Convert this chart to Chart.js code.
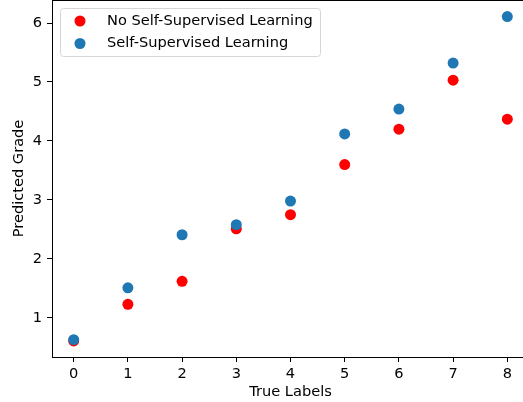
<!DOCTYPE html>
<html>
  <head>
    <meta charset="UTF-8">
    <title>Predicted Grade vs True Labels</title>
    <style>
      html, body { margin: 0; padding: 0; background: #fff; overflow: hidden; }
      #wrap { width: 523px; height: 402px; overflow: hidden; }
    </style>
  </head>
  <body>
    <div id="wrap">
      <canvas id="gradeChart" width="530" height="402"></canvas>
    </div>
    <script src="https://cdn.jsdelivr.net/npm/chart.js"></script>
    <script>
      // values
      const trueLabels = [0, 1, 2, 3, 4, 5, 6, 7, 8];
      const noSslGrades = [0.61, 1.23, 1.62, 2.51, 2.75, 3.60, 4.20, 5.03, 4.37];
      const sslGrades   = [0.63, 1.51, 2.41, 2.58, 2.98, 4.12, 4.54, 5.32, 6.11];
      const xTicks = [0, 1, 2, 3, 4, 5, 6, 7, 8];
      const yTicks = [1, 2, 3, 4, 5, 6];

      const FONT = 'DejaVu Sans';
      const FS = 14.6;

      const toPoints = (ys) => trueLabels.map((x, i) => ({ x: x, y: ys[i] }));

      // top spine (right spine falls outside the picture)
      const frame = {
        id: 'frame',
        beforeDatasetsDraw(chart) {
          const a = chart.chartArea;
          const c = chart.ctx;
          c.save();
          c.strokeStyle = '#000';
          c.lineWidth = 1;
          c.beginPath();
          c.moveTo(a.left, a.top + 0.5);
          c.lineTo(a.right, a.top + 0.5);
          c.lineTo(a.right, a.bottom);
          c.stroke();
          c.restore();
        }
      };

      // matplotlib style legend drawn inside the axes, upper left
      const insideLegend = {
        id: 'insideLegend',
        afterDatasetsDraw(chart) {
          const c = chart.ctx;
          const area = chart.chartArea;
          const x0 = area.left + 8, y0 = area.top + 8, w = 260, h = 48;
          c.save();
          c.beginPath();
          c.roundRect(x0 + 0.5, y0 + 0.5, w, h, 3);
          c.fillStyle = 'rgba(255,255,255,0.8)';
          c.fill();
          c.strokeStyle = '#d6d6d6';
          c.lineWidth = 1;
          c.stroke();
          const entries = [chart.data.datasets[0], chart.data.datasets[1]];
          c.font = FS + 'px "' + FONT + '"';
          c.textBaseline = 'middle';
          entries.forEach((ds, i) => {
            const cy = y0 + 13 + i * 22.5;
            c.beginPath();
            c.arc(x0 + 20, cy, 5.5, 0, Math.PI * 2);
            c.fillStyle = ds.backgroundColor;
            c.fill();
            c.fillStyle = '#000';
            c.fillText(ds.label, x0 + 47, cy);
          });
          c.restore();
        }
      };

      const ctx = document.getElementById('gradeChart').getContext('2d');
      const gradeChart = new Chart(ctx, {
        type: 'scatter',
        data: {
          datasets: [{
            label: 'No Self-Supervised Learning',
            data: toPoints(noSslGrades),
            backgroundColor: '#ff0000',
            borderWidth: 0,
            pointRadius: 5.5,
            order: 1
          }, {
            label: 'Self-Supervised Learning',
            data: toPoints(sslGrades),
            backgroundColor: '#1f77b4',
            borderWidth: 0,
            pointRadius: 5.5,
            order: 0
          }]
        },
        options: {
          responsive: false,
          animation: false,
          layout: { autoPadding: false, padding: { top: 0, right: 1, left: 0, bottom: 0 } },
          plugins: {
            legend: { display: false },
            tooltip: { enabled: false }
          },
          scales: {
            x: {
              type: 'linear',
              min: -0.4,
              max: 8.4,
              afterBuildTicks: (s) => { s.ticks = xTicks.map(v => ({ value: v })); },
              afterFit: (s) => { s.height = 45; s.paddingLeft = 0; s.paddingRight = 0; },
              ticks: { color: '#000', font: { family: FONT, size: FS }, padding: 3, maxRotation: 0 },
              grid: { drawOnChartArea: false, drawTicks: true, tickLength: 5, color: '#000' },
              border: { display: true, color: '#000', width: 1 },
              title: {
                display: true,
                text: 'True Labels',
                color: '#000',
                font: { family: FONT, size: FS },
                padding: { top: 0, bottom: 1 }
              }
            },
            y: {
              type: 'linear',
              min: 0.337,
              max: 6.39,
              afterBuildTicks: (s) => { s.ticks = yTicks.map(v => ({ value: v })); },
              afterFit: (s) => { s.width = 52; s.paddingTop = 0; s.paddingBottom = 0; },
              ticks: { color: '#000', font: { family: FONT, size: FS }, padding: 5 },
              grid: { drawOnChartArea: false, drawTicks: true, tickLength: 5, color: '#000' },
              border: { display: true, color: '#000', width: 1 },
              title: {
                display: true,
                text: 'Predicted Grade',
                color: '#000',
                font: { family: FONT, size: FS },
                padding: { top: 10, bottom: 0 }
              }
            }
          }
        },
        plugins: [frame, insideLegend]
      });
    </script>
  </body>
</html>
